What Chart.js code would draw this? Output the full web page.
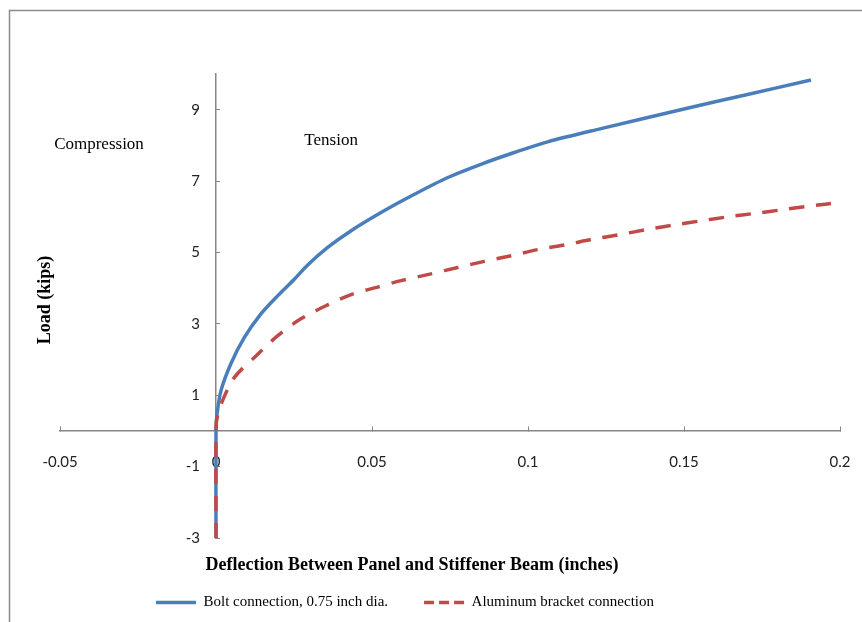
<!DOCTYPE html>
<html>
<head>
<meta charset="utf-8">
<script src="https://cdn.jsdelivr.net/npm/chart.js@4.4.0/dist/chart.umd.min.js"></script>
<style>
    html, body { margin: 0; padding: 0; background: #fff; }
    canvas { display: block; }
</style>
</head>
<body>
<canvas id="deflectionChart" width="862" height="622"></canvas>
<script>
// Bolt connection, 0.75 inch dia. (deflection in inches, load in kips)
const boltX = [0, 0, 0.0003, 0.0016, 0.0048, 0.0091, 0.0144, 0.0198, 0.0251, 0.0294, 0.0358, 0.0433,
    0.0529, 0.0636, 0.0743, 0.0849, 0.0956, 0.1063, 0.1234, 0.15, 0.17, 0.1907];
const boltY = [-3, 0, 0.45, 1.13, 1.89, 2.62, 3.28, 3.79, 4.25, 4.65, 5.14, 5.61,
    6.12, 6.63, 7.10, 7.47, 7.80, 8.10, 8.47, 9.02, 9.42, 9.83];

// Aluminum bracket connection
const bracketX = [0, 0, 0.0003, 0.0021, 0.0059, 0.0123, 0.0198, 0.0272, 0.0358, 0.0433, 0.0518, 0.0593,
    0.0689, 0.0775, 0.0860, 0.0946, 0.1031, 0.1122, 0.1207, 0.1293, 0.1380, 0.1469, 0.1557,
    0.1642, 0.1731, 0.1818, 0.1904, 0.2];
const bracketY = [-3, 0, 0.35, 0.85, 1.50, 2.06, 2.67, 3.14, 3.53, 3.82, 4.03, 4.21,
    4.40, 4.58, 4.75, 4.91, 5.08, 5.22, 5.37, 5.50, 5.64, 5.77, 5.89,
    6.00, 6.10, 6.20, 6.30, 6.40];

const xTickValues = [-0.05, 0, 0.05, 0.1, 0.15, 0.2];
const xTickLabels = ['-0.05', '0', '0.05', '0.1', '0.15', '0.2'];
const yTickValues = [-3, -1, 1, 3, 5, 7, 9];

const axisGray = '#868686';
const tickFont = { family: 'Lato', size: 15 };
const bracketDash = [15, 12];
const legendDash = [10, 5];

function toPoints(xs, ys) {
    return xs.map((x, i) => ({ x: x, y: ys[i] }));
}

// Frame, y tick labels, region labels and axis titles
const textPlugin = {
    id: 'chartText',
    afterLayout(chart) {
        // legend sits left of the canvas centre in the original
        chart.legend.left -= 45;
        chart.legend.right -= 45;
    },
    beforeDraw(chart) {
        const ctx = chart.ctx;
        ctx.save();
        ctx.strokeStyle = '#8c8c8c';
        ctx.lineWidth = 1.5;
        ctx.strokeRect(9.5, 10.5, 900, 700);
        ctx.restore();
    },
    afterDraw(chart) {
        const ctx = chart.ctx;
        const xs = chart.scales.x;
        const ys = chart.scales.y;
        ctx.save();
        ctx.fillStyle = '#222';
        ctx.font = '15px Lato';
        ctx.textAlign = 'right';
        ctx.textBaseline = 'middle';
        ys.ticks.forEach(t => {
            ctx.fillText(String(t.value), xs.getPixelForValue(0) - 16, ys.getPixelForValue(t.value));
        });

        ctx.fillStyle = '#000';
        ctx.textAlign = 'center';
        ctx.font = '17px "Liberation Serif"';
        ctx.fillText('Compression', xs.getPixelForValue(-0.0375), ys.getPixelForValue(8.01));
        ctx.fillText('Tension', xs.getPixelForValue(0.0369), ys.getPixelForValue(8.13));

        ctx.font = 'bold 18px "Liberation Serif"';
        ctx.fillText('Deflection Between Panel and Stiffener Beam (inches)', 412, 565);

        ctx.translate(45, 300);
        ctx.rotate(-Math.PI / 2);
        ctx.fillText('Load (kips)', 0, 0);
        ctx.restore();
    }
};

const ctx = document.getElementById('deflectionChart').getContext('2d');
window.deflectionChart = new Chart(ctx, {
    type: 'line',
    data: {
        datasets: [
            {
                label: 'Bolt connection, 0.75 inch dia.',
                data: toPoints(boltX, boltY),
                borderColor: '#4a7ebb',
                backgroundColor: '#4a7ebb',
                borderWidth: 3.5,
                pointRadius: 0,
                tension: 0.3,
                fill: false,
                order: 1
            },
            {
                label: 'Aluminum bracket connection',
                data: toPoints(bracketX, bracketY),
                borderColor: '#be4b48',
                backgroundColor: '#be4b48',
                borderWidth: 3.5,
                borderDash: bracketDash,
                pointRadius: 0,
                tension: 0.3,
                fill: false,
                order: 0
            }
        ]
    },
    options: {
        responsive: false,
        animation: false,
        layout: {
            autoPadding: false,
            padding: { left: 60, right: 22, top: 74, bottom: 2 }
        },
        scales: {
            x: {
                type: 'linear',
                min: -0.05,
                max: 0.2,
                position: { y: 0 },
                afterBuildTicks: scale => {
                    scale.ticks = xTickValues.map(v => ({ value: v }));
                },
                afterFit: scale => {
                    // labels may overhang the plot edges, as in the original
                    scale.paddingLeft = 0;
                    scale.paddingRight = 0;
                },
                ticks: {
                    autoSkip: false,
                    maxRotation: 0,
                    padding: 27,
                    color: '#222',
                    font: tickFont,
                    callback: (value, index) => xTickLabels[index]
                },
                grid: {
                    drawOnChartArea: false,
                    drawTicks: true,
                    tickLength: -5,
                    color: axisGray,
                    lineWidth: 1
                },
                border: { color: axisGray, width: 1.5 }
            },
            y: {
                type: 'linear',
                min: -3,
                max: 10,
                position: { x: 0 },
                afterBuildTicks: scale => {
                    scale.ticks = yTickValues.map(v => ({ value: v }));
                },
                afterFit: scale => {
                    scale.width = 0;
                },
                ticks: { display: false },
                grid: {
                    drawOnChartArea: false,
                    drawTicks: true,
                    tickLength: -5,
                    color: axisGray,
                    lineWidth: 1
                },
                border: { color: axisGray, width: 1.5 }
            }
        },
        plugins: {
            legend: {
                position: 'bottom',
                title: {
                    display: true,
                    text: ' ',
                    padding: { top: 0, bottom: 3 },
                    font: { family: 'Liberation Serif', size: 15 }
                },
                labels: {
                    usePointStyle: true,
                    pointStyle: 'line',
                    pointStyleWidth: 40,
                    padding: 36,
                    color: '#000',
                    font: { family: 'Liberation Serif', size: 15 },
                    sort: (a, b) => a.datasetIndex - b.datasetIndex,
                    generateLabels: chart => {
                        const items = Chart.defaults.plugins.legend.labels.generateLabels(chart);
                        items.forEach(item => {
                            const ds = chart.data.datasets[item.datasetIndex];
                            item.lineDash = ds.borderDash ? legendDash : [];
                        });
                        return items;
                    }
                }
            },
            tooltip: { enabled: false }
        }
    },
    plugins: [textPlugin]
});
</script>
</body>
</html>
